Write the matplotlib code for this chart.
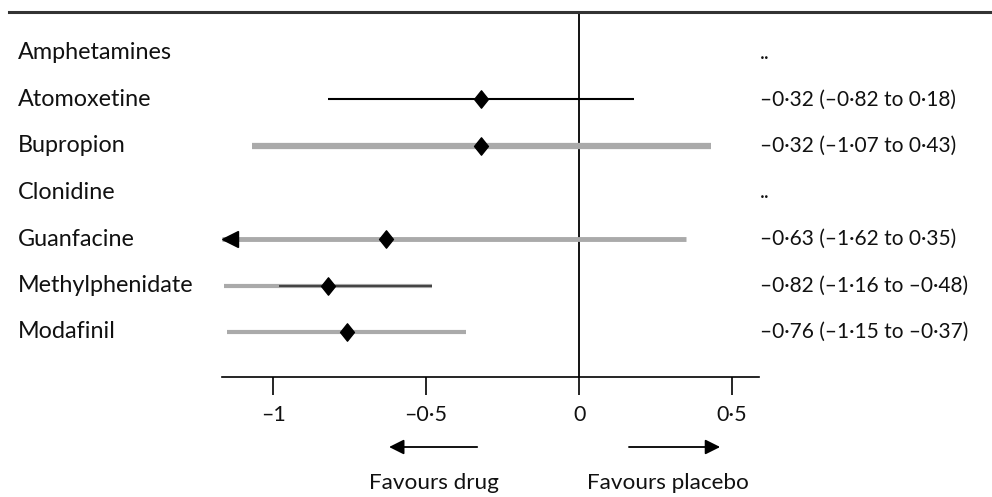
import numpy as np
import matplotlib
matplotlib.use("Agg")
import matplotlib.pyplot as plt
from matplotlib.lines import Line2D
from matplotlib.path import Path
from matplotlib.transforms import blended_transform_factory

# ---------------- data ----------------
drugs = ["Amphetamines", "Atomoxetine", "Bupropion", "Clonidine",
         "Guanfacine", "Methylphenidate", "Modafinil"]
estimate = [np.nan, -0.32, -0.32, np.nan, -0.63, -0.82, -0.76]
ci_low = [np.nan, -0.82, -1.07, np.nan, -1.62, -1.16, -1.15]
ci_high = [np.nan, 0.18, 0.43, np.nan, 0.35, -0.48, -0.37]
# colour of the interval line per row, and where a darker segment starts
ci_colour = [None, "black", "#aaaaaa", None, "#aaaaaa", "#aaaaaa", "#aaaaaa"]
ci_width = [0, 1.5, 4.5, 0, 3.5, 3.0, 3.0]
dark_from = [np.nan, np.nan, np.nan, np.nan, np.nan, -0.98, np.nan]
labels_right = ["..", "–0·32 (–0·82 to 0·18)", "–0·32 (–1·07 to 0·43)", "..",
                "–0·63 (–1·62 to 0·35)", "–0·82 (–1·16 to –0·48)",
                "–0·76 (–1·15 to –0·37)"]
xticks = [-1, -0.5, 0, 0.5]
xtick_labels = ["–1", "–0·5", "0", "0·5"]

# ---------------- layout ----------------
W, H = 992, 497
FONT = ["Lato", "DejaVu Sans"]
TXT = "#111111"
fig = plt.figure(figsize=(W / 100, H / 100), dpi=100)
ax_left, ax_right, ax_top, ax_bottom = 222, 759, 12, 377
ax = fig.add_axes([ax_left / W, 1 - ax_bottom / H,
                   (ax_right - ax_left) / W, (ax_bottom - ax_top) / H])
xmin, xmax = -1.167, 0.588
row0, row_step = 53, 46.5
ax.set_xlim(xmin, xmax)
ax.set_ylim((ax_bottom - row0) / row_step, (ax_top - row0) / row_step)

for s in ["top", "left", "right"]:
    ax.spines[s].set_visible(False)
ax.spines["bottom"].set_linewidth(1.2)
ax.set_yticks([])
ax.set_xticks(xticks)
ax.set_xticklabels(xtick_labels, fontsize=15.5, family=FONT, color=TXT)
ax.tick_params(axis="x", direction="out", length=13, width=1.2, pad=7)

ax.axvline(0, color="black", lw=1.3)

# top rule
fig.add_artist(Line2D([9 / W, 990 / W], [1 - 12 / H] * 2, transform=fig.transFigure,
                      color="#333333", lw=2.2))

diamond = Path([(0, 1), (0.8, 0), (0, -1), (-0.8, 0), (0, 1)],
               [Path.MOVETO, Path.LINETO, Path.LINETO, Path.LINETO, Path.CLOSEPOLY])
row_tr = blended_transform_factory(fig.transFigure, ax.transData)

for i, name in enumerate(drugs):
    ax.text(18 / W, i, name, transform=row_tr, ha="left", va="center",
            fontsize=16.8, family=FONT, color=TXT)
    ax.text(760 / W, i, labels_right[i], transform=row_tr, ha="left", va="center",
            fontsize=15, family=FONT, color=TXT)
    if np.isnan(estimate[i]):
        continue
    lo = max(ci_low[i], xmin)
    hi = min(ci_high[i], xmax)
    ax.plot([lo, hi], [i, i], color=ci_colour[i], lw=ci_width[i],
            solid_capstyle="butt", clip_on=False, zorder=2)
    if not np.isnan(dark_from[i]):
        ax.plot([dark_from[i], hi], [i, i], color="#444444", lw=1.5,
                solid_capstyle="butt", zorder=3)
    if ci_low[i] < xmin:
        ax.plot([xmin + 0.026], [i], marker="<", color="black", markersize=12,
                clip_on=False, zorder=4)
    ax.plot([estimate[i]], [i], marker=diamond, color="black", markersize=12.5,
            linestyle="none", zorder=5)

# direction arrows and captions
arrow_y = 1 - 447 / H
for x_from, x_to in [(-0.333, -0.621), (0.163, 0.461)]:
    ax.annotate("", xy=(x_to, arrow_y), xytext=(x_from, arrow_y),
                xycoords=("data", "figure fraction"), textcoords=("data", "figure fraction"),
                arrowprops=dict(arrowstyle="-|>,head_length=0.9,head_width=0.45",
                                color="black", lw=1.3, shrinkA=0, shrinkB=0))
cap_y = 1 - 483 / H
ax.annotate("Favours drug", xy=(-0.474, cap_y), xycoords=("data", "figure fraction"),
            ha="center", va="center", fontsize=16.2, family=FONT, color=TXT)
ax.annotate("Favours placebo", xy=(0.29, cap_y), xycoords=("data", "figure fraction"),
            ha="center", va="center", fontsize=16.2, family=FONT, color=TXT)

fig.savefig("out.png", dpi=100)
